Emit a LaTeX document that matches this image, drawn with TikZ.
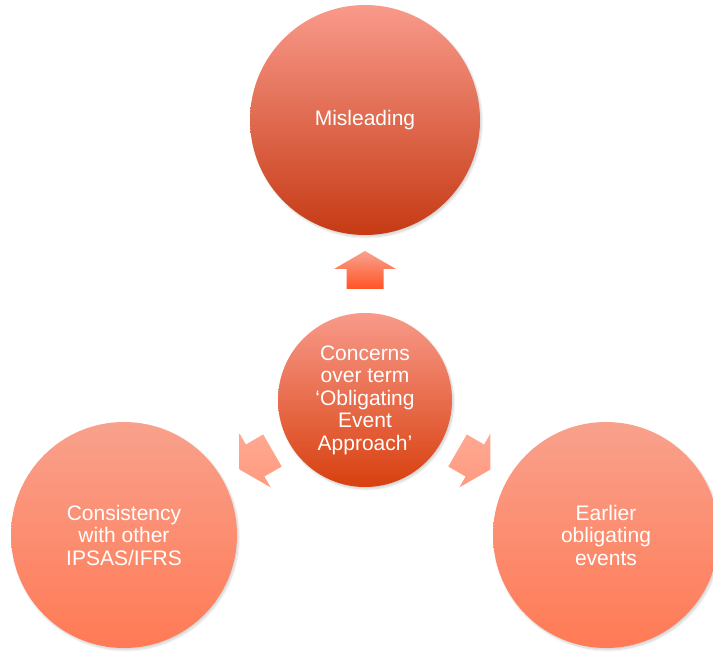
\documentclass[tikz,border=0pt]{standalone}
\usepackage{fontspec}
\setmainfont{Liberation Sans}
\usetikzlibrary{shadows.blur}

\definecolor{topHi}{HTML}{F99A8B}
\definecolor{topLo}{HTML}{C63A14}
\definecolor{midHi}{HTML}{F89A8A}
\definecolor{midLo}{HTML}{D8400F}
\definecolor{sideHi}{HTML}{F9A18C}
\definecolor{sideLo}{HTML}{FF7A55}
\definecolor{upHi}{HTML}{F9A290}
\definecolor{upLo}{HTML}{FF5424}
\definecolor{armHi}{HTML}{FFA893}
\definecolor{armLo}{HTML}{FF9A7E}

\tikzset{
  bubble/.style={circle, inner sep=0pt, minimum size=#1,
    text=white, align=center,
    font=\fontsize{21}{22.5}\selectfont,
    blur shadow={shadow xshift=1.5pt, shadow yshift=-2pt,
      shadow blur steps=6, shadow opacity=18}},
  armshadow/.style={blur shadow={shadow xshift=1pt, shadow yshift=-1.5pt,
      shadow blur steps=4, shadow opacity=15}},
  % block arrow, 38pt long, pointing along the local x axis
  pics/blockarrow/.style={code={
    \path[pic actions] (19,0) -- (1,31) -- (1,18.5) -- (-19,18.5)
      -- (-19,-18.5) -- (1,-18.5) -- (1,-31) -- cycle;
  }},
}

\begin{document}
\begin{tikzpicture}[x=1pt,y=-1pt]
  \useasboundingbox (0,0) rectangle (713,652);

  % four circles: the hub and its three themes
  \node[bubble=230pt, top color=topHi, bottom color=topLo]
    (mis) at (365,120) {Misleading};
  \node[bubble=174pt, top color=midHi, bottom color=midLo]
    (hub) at (365,400) {Concerns\\over term\\‘Obligating\\Event\\Approach’};
  \node[bubble=226pt, top color=sideHi, bottom color=sideLo]
    (con) at (124,535) {Consistency\\with other\\IPSAS/IFRS};
  \node[bubble=226pt, top color=sideHi, bottom color=sideLo]
    (ear) at (606,535) {Earlier\\obligating\\events};

  % block arrows pointing out of the hub
  \pic[armshadow, top color=upHi, bottom color=upLo, rotate=90]
    (upArrow) at (365,270) {blockarrow};
  \pic[armshadow, top color=armHi, bottom color=armLo, rotate=210]
    (leftArrow) at (256,460) {blockarrow};
  \pic[armshadow, top color=armHi, bottom color=armLo, rotate=-30]
    (rightArrow) at (474,460) {blockarrow};
\end{tikzpicture}
\end{document}
